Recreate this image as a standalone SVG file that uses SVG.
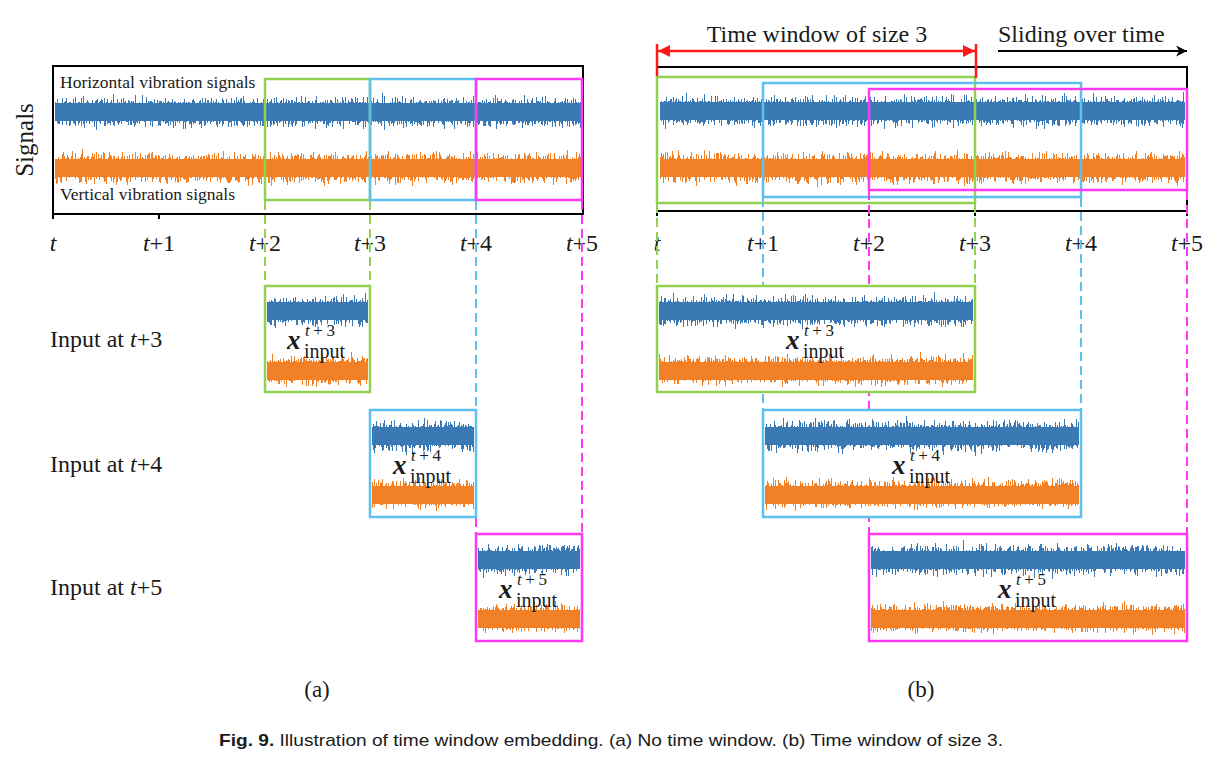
<svg xmlns="http://www.w3.org/2000/svg" width="1220" height="768" viewBox="0 0 1220 768">
<style>
.frame{fill:none;stroke:#000;stroke-width:2}
.tick{stroke:#000;stroke-width:2}
.g{fill:none;stroke:#92d050;stroke-width:2.5}
.b{fill:none;stroke:#5cc0f0;stroke-width:2.5}
.m{fill:none;stroke:#ff38f4;stroke-width:2.5}
.bg{fill:#fff}
.dg{stroke:#92d050;stroke-width:2;stroke-dasharray:9 5}
.db{stroke:#5cc0f0;stroke-width:2;stroke-dasharray:9 5}
.dm{stroke:#ff38f4;stroke-width:2;stroke-dasharray:9 5}
.ser{font-family:"Liberation Serif","Times New Roman",serif;fill:#1a1a1a}
.lbl{font-size:24px}
.sm{font-size:17.5px}
.tl{font-size:24px;text-anchor:middle}
.it{font-style:italic}
.xv{font-size:27px;font-weight:bold;font-style:italic}
.sup{font-size:17px}
.sub{font-size:20px}
.cap{font-family:"Liberation Sans Narrow","Liberation Sans",Arial,sans-serif;font-size:17px;fill:#1a1a1a}
.sb{fill:url(#tent);filter:url(#sigB)}
.so{fill:url(#tent);filter:url(#sigO)}
.cb{fill:#3b79b5}
.co{fill:#f28026}
</style>
<defs>
<linearGradient id="tent" x1="0" y1="0" x2="0" y2="1">
<stop offset="0" stop-color="#000" stop-opacity="0"/>
<stop offset="0.5" stop-color="#000" stop-opacity="1"/>
<stop offset="1" stop-color="#000" stop-opacity="0"/>
</linearGradient>
<filter id="sigB" x="0" y="0" width="1" height="1" color-interpolation-filters="sRGB">
<feTurbulence type="fractalNoise" baseFrequency="0.9 0.03" numOctaves="2" seed="4" result="n"/>
<feColorMatrix in="n" type="matrix" values="0 0 0 0 0  0 0 0 0 0  0 0 0 0 0  1.4 0 0 0 -0.2" result="mm"/>
<feComposite in="SourceAlpha" in2="mm" operator="arithmetic" k1="0" k2="1" k3="0.9" k4="-0.5" result="c"/>
<feComponentTransfer in="c" result="th"><feFuncA type="discrete" tableValues="0 1"/></feComponentTransfer>
<feFlood flood-color="#3b79b5" result="f"/>
<feComposite in="f" in2="th" operator="in"/>
</filter>
<filter id="sigO" x="0" y="0" width="1" height="1" color-interpolation-filters="sRGB">
<feTurbulence type="fractalNoise" baseFrequency="0.9 0.03" numOctaves="2" seed="9" result="n"/>
<feColorMatrix in="n" type="matrix" values="0 0 0 0 0  0 0 0 0 0  0 0 0 0 0  1.4 0 0 0 -0.2" result="mm"/>
<feComposite in="SourceAlpha" in2="mm" operator="arithmetic" k1="0" k2="1" k3="0.9" k4="-0.5" result="c"/>
<feComponentTransfer in="c" result="th"><feFuncA type="discrete" tableValues="0 1"/></feComponentTransfer>
<feFlood flood-color="#f28026" result="f"/>
<feComposite in="f" in2="th" operator="in"/>
</filter>
<marker id="arR" viewBox="0 0 10 10" refX="10" refY="5" markerWidth="15" markerHeight="12" markerUnits="userSpaceOnUse" orient="auto-start-reverse">
<path d="M0,0 L10,5 L0,10 z" fill="#ff1a1a"/>
</marker>
<marker id="arK" viewBox="0 0 10 10" refX="10" refY="5" markerWidth="14" markerHeight="11" markerUnits="userSpaceOnUse" orient="auto">
<path d="M0,0 L10,5 L0,10 L3,5 z" fill="#000"/>
</marker>
</defs>
<rect width="1220" height="768" fill="#fff"/>

<!-- Panel (a) signals -->
<g id="a-signals">
<rect class="frame" x="53" y="66" width="530" height="148"/>
<rect class="sb" x="55" y="90" width="526" height="44"/>
<rect class="cb" x="55" y="103" width="526" height="18"/>
<rect class="so" x="55" y="146" width="526" height="44"/>
<rect class="co" x="55" y="159" width="526" height="18"/>
<text class="ser sm" x="60" y="88">Horizontal vibration signals</text>
<text class="ser sm" x="60" y="200">Vertical vibration signals</text>
<text class="ser" font-size="25" text-anchor="middle" x="33" y="140" transform="rotate(-90 33 140)">Signals</text>
</g>
<g id="a-windows">
<rect class="g" x="265" y="79" width="105" height="121"/>
<rect class="b" x="370" y="79" width="106" height="121"/>
<rect class="m" x="476" y="79" width="106" height="121"/>
</g>
<g id="a-axis">
<line class="tick" x1="53" y1="214" x2="53" y2="219"/>
<line class="tick" x1="159" y1="214" x2="159" y2="219"/>
<line class="tick" x1="265" y1="214" x2="265" y2="219"/>
<line class="tick" x1="370" y1="214" x2="370" y2="219"/>
<line class="tick" x1="476" y1="214" x2="476" y2="219"/>
<line class="tick" x1="582" y1="214" x2="582" y2="219"/>
<text class="ser tl" x="53" y="251"><tspan class="it">t</tspan></text>
<text class="ser tl" x="159" y="251"><tspan class="it">t</tspan>+1</text>
<text class="ser tl" x="265" y="251"><tspan class="it">t</tspan>+2</text>
<text class="ser tl" x="370" y="251"><tspan class="it">t</tspan>+3</text>
<text class="ser tl" x="476" y="251"><tspan class="it">t</tspan>+4</text>
<text class="ser tl" x="582" y="251"><tspan class="it">t</tspan>+5</text>
</g>

<!-- Panel (b) signals -->
<g id="b-signals">
<rect class="frame" x="657" y="67" width="530" height="144"/>
<rect class="sb" x="660" y="89" width="525" height="44"/>
<rect class="cb" x="660" y="102" width="525" height="18"/>
<rect class="so" x="660" y="146" width="525" height="44"/>
<rect class="co" x="660" y="159" width="525" height="18"/>
</g>
<g id="b-windows">
<rect class="g" x="657" y="77" width="318" height="126"/>
<rect class="b" x="763" y="83" width="318" height="114"/>
<rect class="m" x="869" y="89" width="318" height="101"/>
</g>
<g id="b-axis">
<line class="tick" x1="657" y1="211" x2="657" y2="216"/>
<line class="tick" x1="763" y1="211" x2="763" y2="216"/>
<line class="tick" x1="869" y1="211" x2="869" y2="216"/>
<line class="tick" x1="975" y1="211" x2="975" y2="216"/>
<line class="tick" x1="1081" y1="211" x2="1081" y2="216"/>
<line class="tick" x1="1187" y1="211" x2="1187" y2="216"/>
<text class="ser tl" x="657" y="251"><tspan class="it">t</tspan></text>
<text class="ser tl" x="763" y="251"><tspan class="it">t</tspan>+1</text>
<text class="ser tl" x="869" y="251"><tspan class="it">t</tspan>+2</text>
<text class="ser tl" x="975" y="251"><tspan class="it">t</tspan>+3</text>
<text class="ser tl" x="1081" y="251"><tspan class="it">t</tspan>+4</text>
<text class="ser tl" x="1187" y="251"><tspan class="it">t</tspan>+5</text>
</g>
<g id="b-annotations">
<text class="ser" font-size="24" text-anchor="middle" x="817" y="42">Time window of size 3</text>
<text class="ser" font-size="24" x="998" y="42">Sliding over time</text>
</g>

<!-- Connectors -->
<g id="connectors">
<line class="dg" x1="265" y1="201" x2="265" y2="285"/>
<line class="dg" x1="370" y1="201" x2="370" y2="285"/>
<line class="db" x1="476" y1="201" x2="476" y2="409"/>
<line class="dm" x1="582" y1="201" x2="582" y2="533"/>
<line class="dm" x1="476" y1="518" x2="476" y2="533"/>
<line class="dg" x1="657" y1="204" x2="657" y2="285"/>
<line class="dg" x1="975" y1="204" x2="975" y2="285"/>
<line class="db" x1="763" y1="198" x2="763" y2="409"/>
<line class="db" x1="1081" y1="198" x2="1081" y2="409"/>
<line class="dm" x1="869" y1="191" x2="869" y2="533"/>
<line class="dm" x1="1187" y1="191" x2="1187" y2="533"/>
<line stroke="#ff1a1a" stroke-width="2.5" x1="657" y1="44" x2="657" y2="76"/>
<line stroke="#ff1a1a" stroke-width="2.5" x1="976" y1="44" x2="976" y2="78"/>
<line stroke="#ff1a1a" stroke-width="2.5" x1="658" y1="51" x2="975" y2="51" marker-start="url(#arR)" marker-end="url(#arR)"/>
<line stroke="#000" stroke-width="2" x1="998" y1="51" x2="1187" y2="51" marker-end="url(#arK)"/>
</g>

<!-- Input nodes (a) -->
<g id="a-input3">
<text class="ser lbl" x="50" y="347">Input at <tspan class="it">t</tspan>+3</text>
<rect class="bg" x="265" y="286" width="105" height="106"/>
<rect class="sb" x="267" y="289" width="101" height="44"/>
<rect class="cb" x="267" y="302" width="101" height="18"/>
<rect class="so" x="267" y="349" width="101" height="42"/>
<rect class="co" x="267" y="362" width="101" height="18"/>
<rect class="g" x="265" y="286" width="105" height="106"/>
<text class="ser xv" x="287" y="349">x</text>
<text class="ser sup" x="305" y="336" textLength="30" lengthAdjust="spacing"><tspan class="it">t</tspan>+3</text>
<text class="ser sub" x="304" y="358">input</text>
</g>
<g id="a-input4">
<text class="ser lbl" x="50" y="472">Input at <tspan class="it">t</tspan>+4</text>
<rect class="bg" x="370" y="410" width="106" height="107"/>
<rect class="sb" x="372" y="414" width="102" height="44"/>
<rect class="cb" x="372" y="427" width="102" height="18"/>
<rect class="so" x="372" y="473" width="102" height="42"/>
<rect class="co" x="372" y="486" width="102" height="18"/>
<rect class="b" x="370" y="410" width="106" height="107"/>
<text class="ser xv" x="393" y="474">x</text>
<text class="ser sup" x="411" y="461" textLength="30" lengthAdjust="spacing"><tspan class="it">t</tspan>+4</text>
<text class="ser sub" x="410" y="483">input</text>
</g>
<g id="a-input5">
<text class="ser lbl" x="50" y="595">Input at <tspan class="it">t</tspan>+5</text>
<rect class="bg" x="476" y="534" width="106" height="107"/>
<rect class="sb" x="478" y="538" width="102" height="44"/>
<rect class="cb" x="478" y="551" width="102" height="18"/>
<rect class="so" x="478" y="597" width="102" height="42"/>
<rect class="co" x="478" y="610" width="102" height="18"/>
<rect class="m" x="476" y="534" width="106" height="107"/>
<text class="ser xv" x="499" y="598">x</text>
<text class="ser sup" x="517" y="585" textLength="30" lengthAdjust="spacing"><tspan class="it">t</tspan>+5</text>
<text class="ser sub" x="516" y="607">input</text>
</g>

<!-- Input nodes (b) -->
<g id="b-input3">
<rect class="bg" x="657" y="286" width="318" height="106"/>
<rect class="sb" x="659" y="289" width="314" height="44"/>
<rect class="cb" x="659" y="302" width="314" height="18"/>
<rect class="so" x="659" y="349" width="314" height="42"/>
<rect class="co" x="659" y="362" width="314" height="18"/>
<rect class="g" x="657" y="286" width="318" height="106"/>
<text class="ser xv" x="786" y="349">x</text>
<text class="ser sup" x="804" y="336" textLength="30" lengthAdjust="spacing"><tspan class="it">t</tspan>+3</text>
<text class="ser sub" x="803" y="358">input</text>
</g>
<g id="b-input4">
<rect class="bg" x="763" y="410" width="318" height="107"/>
<rect class="sb" x="765" y="414" width="314" height="44"/>
<rect class="cb" x="765" y="427" width="314" height="18"/>
<rect class="so" x="765" y="473" width="314" height="42"/>
<rect class="co" x="765" y="486" width="314" height="18"/>
<rect class="b" x="763" y="410" width="318" height="107"/>
<text class="ser xv" x="892" y="474">x</text>
<text class="ser sup" x="910" y="461" textLength="30" lengthAdjust="spacing"><tspan class="it">t</tspan>+4</text>
<text class="ser sub" x="909" y="483">input</text>
</g>
<g id="b-input5">
<rect class="bg" x="869" y="534" width="318" height="107"/>
<rect class="sb" x="871" y="538" width="314" height="44"/>
<rect class="cb" x="871" y="551" width="314" height="18"/>
<rect class="so" x="871" y="597" width="314" height="42"/>
<rect class="co" x="871" y="610" width="314" height="18"/>
<rect class="m" x="869" y="534" width="318" height="107"/>
<text class="ser xv" x="998" y="598">x</text>
<text class="ser sup" x="1016" y="585" textLength="30" lengthAdjust="spacing"><tspan class="it">t</tspan>+5</text>
<text class="ser sub" x="1015" y="607">input</text>
</g>

<g id="labels">
<text class="ser" font-size="23" text-anchor="middle" x="317" y="697">(a)</text>
<text class="ser" font-size="23" text-anchor="middle" x="921" y="697">(b)</text>
<text class="cap" x="219" y="746" textLength="784" lengthAdjust="spacingAndGlyphs"><tspan font-weight="bold">Fig. 9.</tspan> Illustration of time window embedding. (a) No time window. (b) Time window of size 3.</text>
</g>
</svg>
